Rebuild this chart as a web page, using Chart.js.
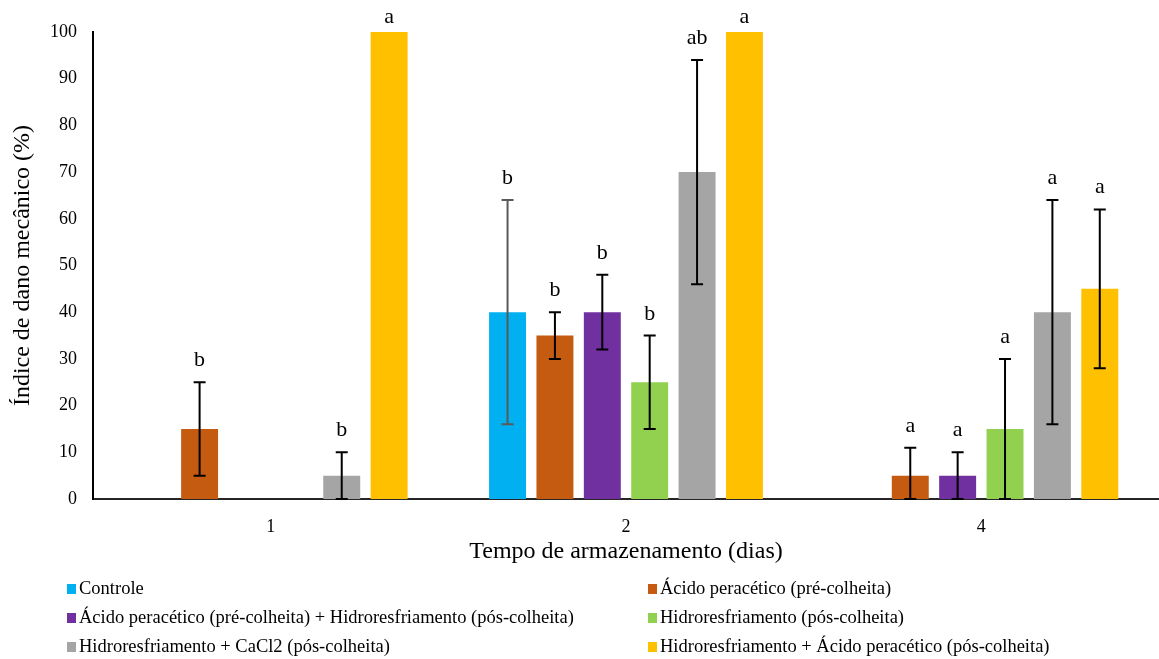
<!DOCTYPE html>
<html lang="pt">
<head>
<meta charset="utf-8">
<title>Índice de dano mecânico</title>
<script src="https://cdn.jsdelivr.net/npm/chart.js@4.4.1/dist/chart.umd.min.js"></script>
<style>
    html, body { margin: 0; padding: 0; background: #fff; }
    body { width: 1159px; height: 659px; position: relative; overflow: hidden; font-family: 'Liberation Serif', 'Times New Roman', serif; }
    .chart-wrap { position: absolute; left: 0; top: 0; width: 1159px; height: 575px; }
    .legend { position: absolute; left: 67px; top: 574px; width: 1092px; display: grid; grid-template-columns: 581px 1fr; grid-auto-rows: 29px; }
    .legend-item { display: flex; align-items: center; font-size: 18.5px; color: #000; white-space: nowrap; }
    .legend-box { width: 9px; height: 10px; margin-right: 3px; flex: none; }
</style>
</head>
<body>
<div class="chart-wrap"><canvas id="danoChart"></canvas></div>
<div class="legend" id="legend"></div>

<script>
// Categories (storage days)
const dias = ['1', '2', '4'];

// Treatments
const tratamentos = [
    'Controle',
    'Ácido peracético (pré-colheita)',
    'Ácido peracético (pré-colheita) + Hidroresfriamento (pós-colheita)',
    'Hidroresfriamento (pós-colheita)',
    'Hidroresfriamento + CaCl2 (pós-colheita)',
    'Hidroresfriamento + Ácido peracético (pós-colheita)'
];
const cores = ['#00B0F0', '#C55A11', '#7030A0', '#92D050', '#A5A5A5', '#FFC000'];

// Means (%), one array per treatment, ordered by day
const controle = [0, 40, 0];
const acidoPre = [15, 35, 5];
const acidoPreHidro = [0, 40, 5];
const hidro = [0, 25, 15];
const hidroCaCl2 = [5, 70, 40];
const hidroAcido = [100, 100, 45];

// Error bar sizes (+/-)
const errControle = [0, 24, 0];
const errAcidoPre = [10, 5, 6];
const errAcidoPreHidro = [0, 8, 5];
const errHidro = [0, 10, 15];
const errHidroCaCl2 = [5, 24, 24];
const errHidroAcido = [0, 0, 17];

// Significance letters
const letrasControle = ['', 'b', ''];
const letrasAcidoPre = ['b', 'b', 'a'];
const letrasAcidoPreHidro = ['', 'b', 'a'];
const letrasHidro = ['', 'b', 'a'];
const letrasHidroCaCl2 = ['b', 'ab', 'a'];
const letrasHidroAcido = ['a', 'a', 'a'];

// Y axis ticks
const yTicks = [0, 10, 20, 30, 40, 50, 60, 70, 80, 90, 100];

const valores = [controle, acidoPre, acidoPreHidro, hidro, hidroCaCl2, hidroAcido];
const erros = [errControle, errAcidoPre, errAcidoPreHidro, errHidro, errHidroCaCl2, errHidroAcido];
const letras = [letrasControle, letrasAcidoPre, letrasAcidoPreHidro, letrasHidro, letrasHidroCaCl2, letrasHidroAcido];

const serif = "'Liberation Serif', 'Times New Roman', serif";

// Error bars + letters drawn on top of the bars
const errorBarPlugin = {
    id: 'errorBars',
    afterDatasetsDraw(chart) {
        const ctx = chart.ctx;
        const yScale = chart.scales.y;
        ctx.save();
        chart.data.datasets.forEach((ds, di) => {
            const meta = chart.getDatasetMeta(di);
            meta.data.forEach((bar, i) => {
                const v = ds.data[i];
                const e = ds.errors[i];
                let top = v;
                if (e) {
                    top = v + e;
                    const yTop = yScale.getPixelForValue(v + e);
                    const yBot = yScale.getPixelForValue(Math.max(v - e, 0));
                    ctx.strokeStyle = di === 0 ? '#595959' : '#000';
                    ctx.lineWidth = 2;
                    ctx.beginPath();
                    ctx.moveTo(bar.x, yTop);
                    ctx.lineTo(bar.x, yBot);
                    ctx.moveTo(bar.x - 6, yTop);
                    ctx.lineTo(bar.x + 6, yTop);
                    ctx.moveTo(bar.x - 6, yBot);
                    ctx.lineTo(bar.x + 6, yBot);
                    ctx.stroke();
                }
                const letra = ds.letters[i];
                if (letra) {
                    ctx.fillStyle = '#000';
                    ctx.font = '22px ' + serif;
                    ctx.textAlign = 'center';
                    ctx.textBaseline = 'alphabetic';
                    ctx.fillText(letra, bar.x, yScale.getPixelForValue(top) - (e ? 16 : 9));
                }
            });
        });
        ctx.restore();
    }
};

function buildLegend() {
    const legend = document.getElementById('legend');
    legend.innerHTML = tratamentos.map((nome, i) => `
        <div class="legend-item"><span class="legend-box" style="background:${cores[i]}"></span>${nome}</div>
    `).join('');
}

document.addEventListener('DOMContentLoaded', () => {
    const ctx = document.getElementById('danoChart');

    new Chart(ctx, {
        type: 'bar',
        data: {
            labels: dias,
            datasets: tratamentos.map((nome, i) => ({
                label: nome,
                data: valores[i],
                errors: erros[i],
                letters: letras[i],
                backgroundColor: cores[i],
                borderWidth: 0,
                categoryPercentage: 0.8,
                barPercentage: 0.78
            }))
        },
        options: {
            responsive: true,
            maintainAspectRatio: false,
            animation: false,
            layout: {
                padding: { top: 32, right: 0, bottom: 0, left: 0 }
            },
            plugins: {
                legend: { display: false },
                tooltip: { enabled: false }
            },
            scales: {
                x: {
                    grid: { display: false, drawTicks: false },
                    border: { color: '#262626', width: 2 },
                    ticks: {
                        color: '#000',
                        padding: 17,
                        font: { family: serif, size: 18 }
                    },
                    title: {
                        display: true,
                        text: 'Tempo de armazenamento (dias)',
                        color: '#000',
                        font: { family: serif, size: 24 },
                        padding: { top: 0, bottom: 9 }
                    },
                    afterFit(scale) { scale.height = 76; }
                },
                y: {
                    min: 0,
                    max: 100,
                    afterBuildTicks(scale) {
                        scale.ticks = yTicks.map(v => ({ value: v }));
                    },
                    grid: { display: false, drawTicks: false },
                    border: { color: '#000', width: 2 },
                    ticks: {
                        color: '#000',
                        padding: 16,
                        font: { family: serif, size: 18 }
                    },
                    title: {
                        display: true,
                        text: 'Índice de dano mecânico (%)',
                        color: '#000',
                        font: { family: serif, size: 24 },
                        padding: { top: 8, bottom: 0 }
                    },
                    afterFit(scale) { scale.width = 93; }
                }
            }
        },
        plugins: [errorBarPlugin]
    });

    buildLegend();
});
</script>
</body>
</html>
